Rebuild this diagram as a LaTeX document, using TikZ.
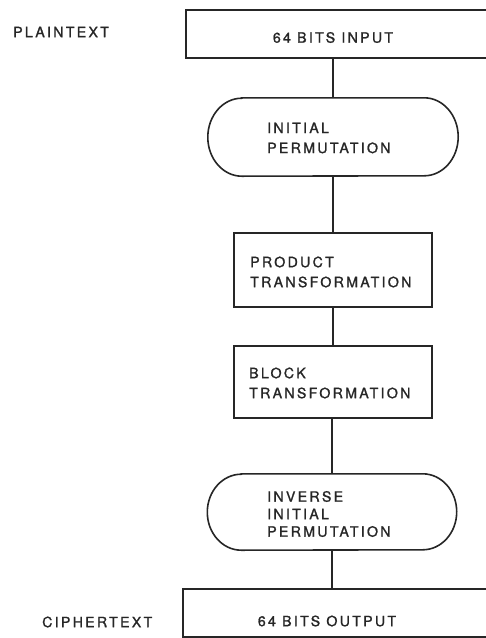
\documentclass[tikz,border=0pt]{standalone}
\usepackage{fontspec}
\newfontfamily\labfont{TeX Gyre Heros}[LetterSpace=16,FakeBold=1.2]
\usetikzlibrary{calc}
\tikzset{
  lab/.style={font=\labfont\fontsize{14.2}{20}\selectfont, inner sep=0pt, align=left, text=black!85},
  labtight/.style={font=\labfont\fontsize{14.2}{17.5}\selectfont, inner sep=0pt, align=left, text=black!85},
  boxnode/.style={draw=black!85, line width=1.6pt, inner sep=0pt},
  ghost/.style={draw=none, inner sep=0pt},
  ovalline/.style={draw=black!85, line width=1.6pt},
  conn/.style={draw=black!85, line width=1.6pt}
}
\begin{document}
\begin{tikzpicture}[x=1pt,y=1pt]
\useasboundingbox (0,0) rectangle (486,-638);
\clip (0,0) rectangle (486,-638);
\fill[white] (0,0) rectangle (486,-638);

% side labels
\node[lab, anchor=west] (plain) at (13,-32) {PLAINTEXT};
\node[lab, anchor=west] (cipher) at (42,-622) {CIPHERTEXT};

% top box
\node[boxnode, minimum width=334pt, minimum height=48pt] (in) at (353,-34) {};
\node[lab] (intxt) at (333,-37.5) {64 BITS INPUT};

% initial permutation oval
\node[ghost, minimum width=250pt, minimum height=78pt] (ip) at (333,-137) {};
\draw[ovalline] ($(ip.north west)+(34,0)$) -- ($(ip.north east)+(-34,0)$)
  arc[start angle=90, end angle=-90, x radius=34, y radius=39]
  -- ($(ip.south west)+(34,0)$)
  arc[start angle=270, end angle=90, x radius=34, y radius=39] -- cycle;
\node[lab, anchor=west] (iptxt) at (267,-138) {INITIAL\\PERMUTATION};

% product transformation
\node[boxnode, minimum width=198pt, minimum height=74pt] (prod) at (333,-270) {};
\node[lab, anchor=west] (prodtxt) at (250,-272) {PRODUCT\\TRANSFORMATION};

% block transformation
\node[boxnode, minimum width=198pt, minimum height=72pt] (blk) at (333,-382) {};
\node[lab, anchor=west] (blktxt) at (249,-383) {BLOCK\\TRANSFORMATION};

% inverse initial permutation oval
\node[ghost, minimum width=249pt, minimum height=76pt] (iip) at (332,-512) {};
\draw[ovalline] ($(iip.north west)+(34,0)$) -- ($(iip.north east)+(-34,0)$)
  arc[start angle=90, end angle=-90, x radius=34, y radius=38]
  -- ($(iip.south west)+(34,0)$)
  arc[start angle=270, end angle=90, x radius=34, y radius=38] -- cycle;
\node[labtight, anchor=west] (iiptxt) at (267,-514) {INVERSE\\INITIAL\\PERMUTATION};

% bottom box
\node[boxnode, minimum width=337pt, minimum height=48pt] (out) at (351.5,-613) {};
\node[lab] (outtxt) at (327,-621) {64 BITS OUTPUT};

% connectors
\draw[conn] (ip.north |- in.south) -- (ip.north);
\draw[conn] (ip.south) -- (prod.north);
\draw[conn] (prod.south) -- (blk.north);
\draw[conn] (blk.south -| iip.north) -- (iip.north);
\draw[conn] (iip.south) -- (iip.south |- out.north);
\end{tikzpicture}
\end{document}
